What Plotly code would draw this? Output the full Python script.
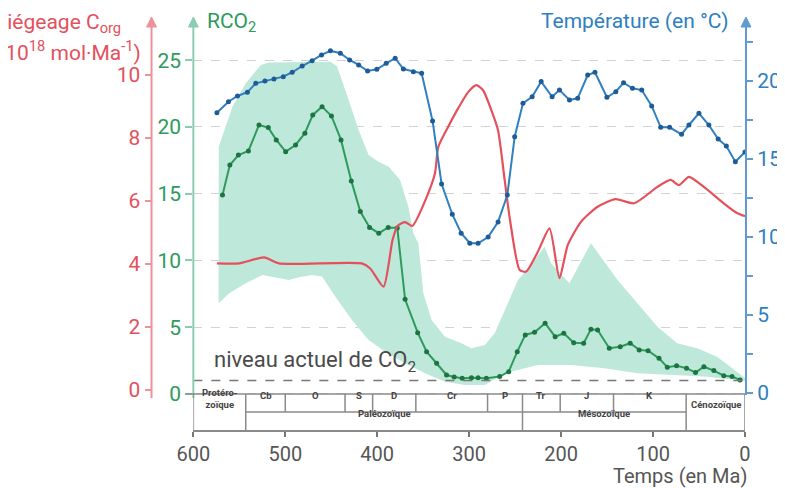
import plotly.graph_objects as go

# ---------------- data ----------------
temp_t = [574.4, 561.8, 552.0, 541.2, 532.1, 522.1, 512.3, 502.2, 492.5, 481.6, 470.8, 460.6,
          450.9, 440.1, 430.0, 420.2, 410.5, 400.4, 390.2, 380.5, 371.5, 360.7, 351.7, 339.8,
          330.0, 318.4, 308.7, 299.3, 290.3, 279.4, 268.6, 258.5, 250.5, 241.5, 231.5, 221.7,
          209.8, 201.8, 190.9, 182.0, 171.1, 163.2, 150.2, 140.5, 132.1, 122.4, 112.3, 101.5,
          91.7, 82.0, 69.0, 61.0, 50.1, 39.3, 29.2, 20.3, 10.5, 0.0]
temp_v = [17.97, 18.67, 19.04, 19.28, 19.85, 20.0, 20.13, 20.28, 20.56, 20.96, 21.3, 21.67,
          21.94, 21.78, 21.35, 21.03, 20.64, 20.75, 21.13, 21.46, 20.77, 20.6, 20.49, 17.44,
          13.4, 11.46, 10.24, 9.6, 9.6, 10.0, 10.96, 12.69, 16.43, 18.57, 18.99, 19.96,
          18.99, 19.42, 18.78, 18.89, 20.38, 20.56, 18.96, 19.31, 19.89, 19.53, 19.42, 18.4,
          17.03, 17.03, 16.58, 17.18, 17.93, 17.18, 16.28, 15.83, 14.83, 15.45]

rco2_t = [568.3, 560.3, 551.0, 540.1, 528.6, 518.5, 509.8, 499.6, 488.8, 478.7, 470.1, 460.0,
          449.8, 439.4, 428.2, 418.4, 408.3, 398.3, 388.1, 378.2, 369.7, 356.0, 346.3, 335.4,
          324.6, 316.3, 307.6, 297.5, 290.3, 281.3, 266.8, 257.0, 247.7, 239.0, 228.9, 217.4,
          206.5, 197.1, 186.3, 175.5, 167.6, 160.3, 147.6, 135.7, 124.9, 115.1, 105.4, 93.5,
          84.5, 74.4, 63.6, 53.8, 44.7, 33.9, 23.1, 14.1, 5.4]
rco2_v = [14.91, 17.15, 17.9, 18.2, 20.15, 19.95, 19.03, 18.15, 18.65, 19.53, 20.9, 21.52,
          20.82, 19.03, 15.96, 13.66, 12.47, 12.04, 12.47, 12.43, 7.09, 4.59, 3.17, 2.3,
          1.42, 1.27, 1.18, 1.22, 1.22, 1.18, 1.3, 1.67, 3.17, 4.42, 4.62, 5.3,
          4.29, 4.55, 3.84, 3.8, 4.85, 4.79, 3.42, 3.54, 3.8, 3.3, 3.24, 2.67,
          2.0, 2.12, 1.93, 1.6, 2.04, 1.75, 1.37, 1.3, 1.05]

band_up_t = [572.4, 557.5, 543.0, 526.7, 517.7, 485.2, 450.9, 443.7, 434.7, 420.2, 409.4, 398.6,
             387.7, 375.1, 366.1, 360.7, 355.3, 349.8, 340.9, 326.3, 308.4, 297.5, 283.0, 272.2,
             261.4, 246.9, 234.3, 218.0, 210.9, 191.0, 167.6, 156.7, 138.6, 117.0, 95.3, 73.7,
             52.0, 30.3, 15.9, 0.0]
band_up_v = [18.52, 21.52, 23.27, 24.64, 24.82, 24.87, 24.89, 24.52, 22.77, 19.78, 17.9, 17.4,
             17.03, 16.03, 14.03, 12.04, 11.29, 7.54, 5.54, 4.29, 3.8, 3.42, 3.67, 4.55,
             6.29, 8.54, 9.54, 11.03, 9.79, 8.29, 11.29, 10.29, 8.54, 6.79, 5.04, 3.8,
             3.42, 2.79, 2.04, 1.2]
band_lo_t = [572.6, 561.0, 543.0, 525.0, 506.9, 496.1, 485.2, 470.8, 460.0, 445.5, 427.5, 409.4,
             391.3, 369.7, 348.0, 326.3, 304.7, 283.0, 261.4, 225.3, 189.2, 153.0, 117.0, 80.9,
             44.7, 8.7, 0.0]
band_lo_v = [6.79, 7.54, 8.29, 8.91, 8.67, 8.54, 8.74, 8.91, 8.79, 7.29, 5.54, 4.04,
             3.17, 2.3, 1.55, 0.92, 0.67, 0.67, 1.55, 2.17, 2.17, 1.93, 1.55, 1.42,
             1.3, 1.05, 0.97]

corg_t = [574.4, 550.2, 523.1, 506.9, 416.7, 407.6, 393.2, 383.4, 378.0, 369.7, 361.8, 346.6,
          337.2, 333.6, 322.8, 311.9, 301.1, 292.1, 284.9, 275.9, 268.6, 261.4, 255.6, 245.1,
          238.0, 225.3, 212.6, 201.8, 192.8, 178.4, 160.3, 140.8, 120.5, 95.3, 80.9, 71.8,
          61.0, 44.7, 23.1, 8.7, 0.0]
corg_v = [4.02, 4.02, 4.21, 4.02, 4.02, 3.86, 3.28, 4.76, 5.21, 5.33, 5.21, 6.1,
          6.88, 7.72, 8.36, 8.95, 9.46, 9.68, 9.52, 8.89, 8.25, 6.67, 5.4, 3.81,
          3.76, 4.39, 5.13, 3.55, 4.6, 5.34, 5.82, 6.06, 5.93, 6.45, 6.67, 6.51,
          6.77, 6.45, 5.93, 5.62, 5.52]

co2_now = 1.0

period_bounds = [600, 543, 500, 435, 405, 358, 280, 242, 201, 143, 64, 0]
period_labels = ["", "Cb", "O", "S", "D", "Cr", "P", "Tr", "J", "K", ""]
era_bounds = [600, 543, 242, 64, 0]
era_labels = ["Protéro-<br>zoïque", "Paléozoïque", "Mésozoïque", "Cénozoïque"]

x_ticks = [600, 500, 400, 300, 200, 100, 0]
rco2_ticks = [0, 5, 10, 15, 20, 25]
corg_ticks = [0, 2, 4, 6, 8, 10]
temp_ticks = [0, 5, 10, 15, 20]

# ---------------- layout helpers ----------------
# The page has an 8px body margin, so reference pixel X maps to figure pixel X-8.
OFF = 8
W, H = 785, 488
ML, MR, MT, MB = 32, 45, 12, 66
PW = W - ML - MR
PH = H - MT - MB


def px(xr):
    return (xr - OFF - ML) / PW


def py(yr):
    return (H - MB - (yr - OFF)) / PH


RED = "#e4505c"
RED_AX = "#ec929a"
GREEN = "#2e9a5c"
GREEN_AX = "#8ccdb0"
GREEN_MK = "#1d7442"
BLUE = "#2f7fc1"
BLUE_AX = "#5f9bd0"
BLUE_MK = "#1f5c96"
BAND = "rgb(190,233,218)"
GREY = "#555555"
FONT = "Roboto"
TS = 21

fig = go.Figure()

fig.add_trace(go.Scatter(
    x=band_up_t + band_lo_t[::-1], y=band_up_v + band_lo_v[::-1],
    fill="toself", fillcolor=BAND, line=dict(width=0), mode="lines",
    yaxis="y", hoverinfo="skip", showlegend=False))

fig.add_trace(go.Scatter(
    x=corg_t, y=corg_v, mode="lines", yaxis="y2",
    line=dict(color=RED, width=2.2, shape="spline", smoothing=0.6), showlegend=False))

fig.add_trace(go.Scatter(
    x=rco2_t, y=rco2_v, mode="lines+markers", yaxis="y",
    line=dict(color=GREEN, width=2), marker=dict(color=GREEN_MK, size=5),
    showlegend=False))

fig.add_trace(go.Scatter(
    x=temp_t, y=temp_v, mode="lines+markers", yaxis="y3",
    line=dict(color=BLUE, width=2), marker=dict(color=BLUE_MK, size=5),
    showlegend=False))

shapes = []
shapes.append(dict(type="line", xref="paper", yref="y", x0=px(194), x1=1, y0=co2_now, y1=co2_now,
                   line=dict(color="#777777", width=1.5, dash="dash")))
for xc, col, ybot in [(152, RED_AX, 398), (194, GREEN_AX, 398), (749, BLUE_AX, 395)]:
    shapes.append(dict(type="line", xref="paper", yref="paper", x0=px(xc), x1=px(xc),
                       y0=py(ybot), y1=py(26), line=dict(color=col, width=2)))
    shapes.append(dict(type="path", xref="paper", yref="paper",
                       path=f"M {px(xc)},{py(17)} L {px(xc-5)},{py(27)} L {px(xc+5)},{py(27)} Z",
                       fillcolor=col, line=dict(color=col, width=1)))

TBL = "#8a8a8a"
y_top, y_mid, y_bot = py(394), py(412), 0
shapes.append(dict(type="line", xref="paper", yref="paper", x0=px(186), x1=1, y0=y_top, y1=y_top,
                   line=dict(color=TBL, width=1.5)))
shapes.append(dict(type="line", xref="x", yref="paper", x0=543, x1=64, y0=y_mid, y1=y_mid,
                   line=dict(color=TBL, width=1.5)))
for b in period_bounds:
    full = b in era_bounds
    shapes.append(dict(type="line", xref="x", yref="paper", x0=b, x1=b,
                       y0=y_bot if full else y_mid, y1=y_top,
                       line=dict(color=TBL, width=1.5)))

annotations = []
tfont = dict(family=FONT, size=9.5, color="#444444")
for i, lab in enumerate(period_labels):
    if lab:
        annotations.append(dict(xref="x", yref="paper", x=(period_bounds[i] + period_bounds[i + 1]) / 2,
                                y=(y_top + y_mid) / 2, text=f"<b>{lab}</b>", showarrow=False,
                                font=tfont))
for i, lab in enumerate(era_labels):
    xm = (era_bounds[i] + era_bounds[i + 1]) / 2
    ym = (y_top + y_bot) / 2 if i in (0, 3) else (y_mid + y_bot) / 2
    annotations.append(dict(xref="x", yref="paper", x=xm, y=ym, text=f"<b>{lab}</b>",
                            showarrow=False, font=tfont))

annotations += [
    dict(xref="paper", yref="paper", x=px(123), y=py(23), xanchor="right", yanchor="middle",
         text="Piégeage C<sub>org</sub>", showarrow=False, font=dict(family=FONT, size=21, color=RED)),
    dict(xref="paper", yref="paper", x=px(143), y=py(51), xanchor="right", yanchor="middle",
         text="(10<sup>18</sup> mol·Ma<sup>-1</sup>)", showarrow=False,
         font=dict(family=FONT, size=21, color=RED)),
    dict(xref="paper", yref="paper", x=px(206), y=py(22), xanchor="left", yanchor="middle",
         text="RCO<sub>2</sub>", showarrow=False, font=dict(family=FONT, size=TS, color=GREEN)),
    dict(xref="paper", yref="paper", x=px(734), y=py(21), xanchor="right", yanchor="middle",
         text="Température (en °C)", showarrow=False, font=dict(family=FONT, size=TS, color=BLUE)),
    dict(xref="paper", yref="paper", x=px(213), y=py(361), xanchor="left", yanchor="middle",
         text="niveau actuel de CO<sub>2</sub>", showarrow=False,
         font=dict(family=FONT, size=22, color="#4a4a4a")),
    dict(xref="paper", yref="paper", x=px(752), y=py(476), xanchor="right", yanchor="middle",
         text="Temps (en Ma)", showarrow=False, font=dict(family=FONT, size=20, color=GREY)),
]

fig.update_layout(
    width=W, height=H,
    margin=dict(l=ML, r=MR, t=MT, b=MB),
    paper_bgcolor="white", plot_bgcolor="white",
    font=dict(family=FONT),
    xaxis=dict(domain=[px(194), px(748)], range=[600, 0], tickvals=x_ticks,
               ticks="outside", ticklen=5, tickwidth=1.5, tickcolor="#777777",
               showline=True, linecolor=TBL, linewidth=1.5,
               showgrid=False, zeroline=False,
               tickfont=dict(family=FONT, size=20, color=GREY)),
    yaxis=dict(domain=[0, 1], range=[-2.70, 28.01], tickvals=rco2_ticks, anchor="x", side="left",
               ticks="outside", ticklen=7, tickwidth=1.5, tickcolor=GREEN_AX,
               showline=False, zeroline=False,
               showgrid=True, gridcolor="#d2d2d2", griddash="dash", gridwidth=1,
               tickfont=dict(family=FONT, size=TS, color=GREEN)),
    yaxis2=dict(range=[-1.27, 11.75], tickvals=corg_ticks, overlaying="y", anchor="free",
                position=px(152), side="left",
                ticks="outside", ticklen=7, tickwidth=1.5, tickcolor=RED_AX,
                showline=False, zeroline=False, showgrid=False,
                tickfont=dict(family=FONT, size=TS, color=RED)),
    yaxis3=dict(range=[-2.37, 23.91], tickvals=temp_ticks, overlaying="y", anchor="x",
                side="right",
                ticks="outside", ticklen=7, tickwidth=1.5, tickcolor=BLUE_AX,
                minor=dict(tickmode="linear", tick0=0, dtick=2.5, ticks="outside", ticklen=7,
                           tickwidth=1.5, tickcolor=BLUE_AX),
                showline=False, zeroline=False, showgrid=False,
                tickfont=dict(family=FONT, size=TS, color=BLUE)),
    shapes=shapes,
    annotations=annotations,
    showlegend=False,
)

fig.write_html("out.html")
